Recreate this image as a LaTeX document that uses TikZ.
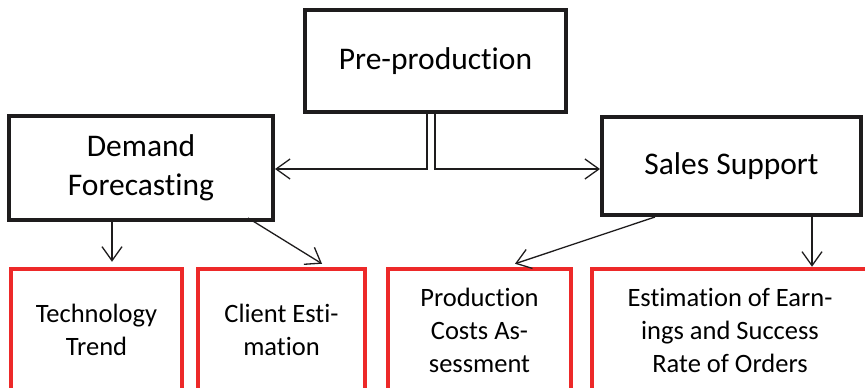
\documentclass[tikz,border=0pt]{standalone}
\usepackage{fontspec}
\setmainfont{Carlito}[Ligatures=NoCommon]
\usepackage{tikz}
\usetikzlibrary{arrows.meta}
\definecolor{boxred}{RGB}{237,41,41}
\definecolor{boxblack}{RGB}{30,28,29}

\begin{document}
\begin{tikzpicture}[x=1pt,y=-1pt, inner sep=0pt, >={Straight Barb[length=14pt,width=20pt]},
  top/.style={rectangle,draw=boxblack,line width=4pt,align=center,font=\fontsize{31.5}{38.5}\selectfont},
  sub/.style={rectangle,draw=boxred,line width=4.5pt,align=center,minimum height=122pt,font=\fontsize{26.5}{33}\selectfont},
  link/.style={->,line width=1.3pt,draw=boxblack}]
\useasboundingbox (0,0) rectangle (865,388);
\clip (0,0) rectangle (865,388);
\node (pre) at (435.5,61) [top,minimum width=261pt,minimum height=102pt] {Pre-production};
\node (dem) at (141,168) [top,minimum width=264pt,minimum height=104pt] {Demand\\Forecasting};
\node (sal) at (731.5,166) [top,minimum width=259pt,minimum height=98pt] {Sales Support};
\node (tech) at (96.5,330) [sub,minimum width=171pt] {Technology\\Trend};
\node (cli) at (281.5,330) [sub,minimum width=167pt] {Client Esti-\\mation};
\node (prod) at (479.5,330) [sub,minimum width=183pt] {Production\\Costs As-\\sessment};
\node (earn) at (730,330) [sub,minimum width=276pt] {Estimation of Earn-\\ings and Success\\Rate of Orders};
\draw[link] ([xshift=-8.5pt]pre.south) |- ([yshift=-1pt]dem.east); 
\draw[link] ([xshift=-0.5pt]pre.south) |- ([yshift=-3pt]sal.west); 
\draw[link] ([xshift=15.5pt]tech.north |- dem.south) -- ([xshift=15.5pt,yshift=5pt]tech.north); 
\draw[link] ([xshift=107pt,yshift=4pt]dem.south) -- ([xshift=40.5pt,yshift=3pt]cli.north); 
\draw[link] ([xshift=-76.5pt]sal.south) -- ([xshift=35.5pt,yshift=3pt]prod.north); 
\draw[link] ([xshift=82pt]earn.north |- sal.south) -- ([xshift=82pt]earn.north); 
\end{tikzpicture}
\end{document}
